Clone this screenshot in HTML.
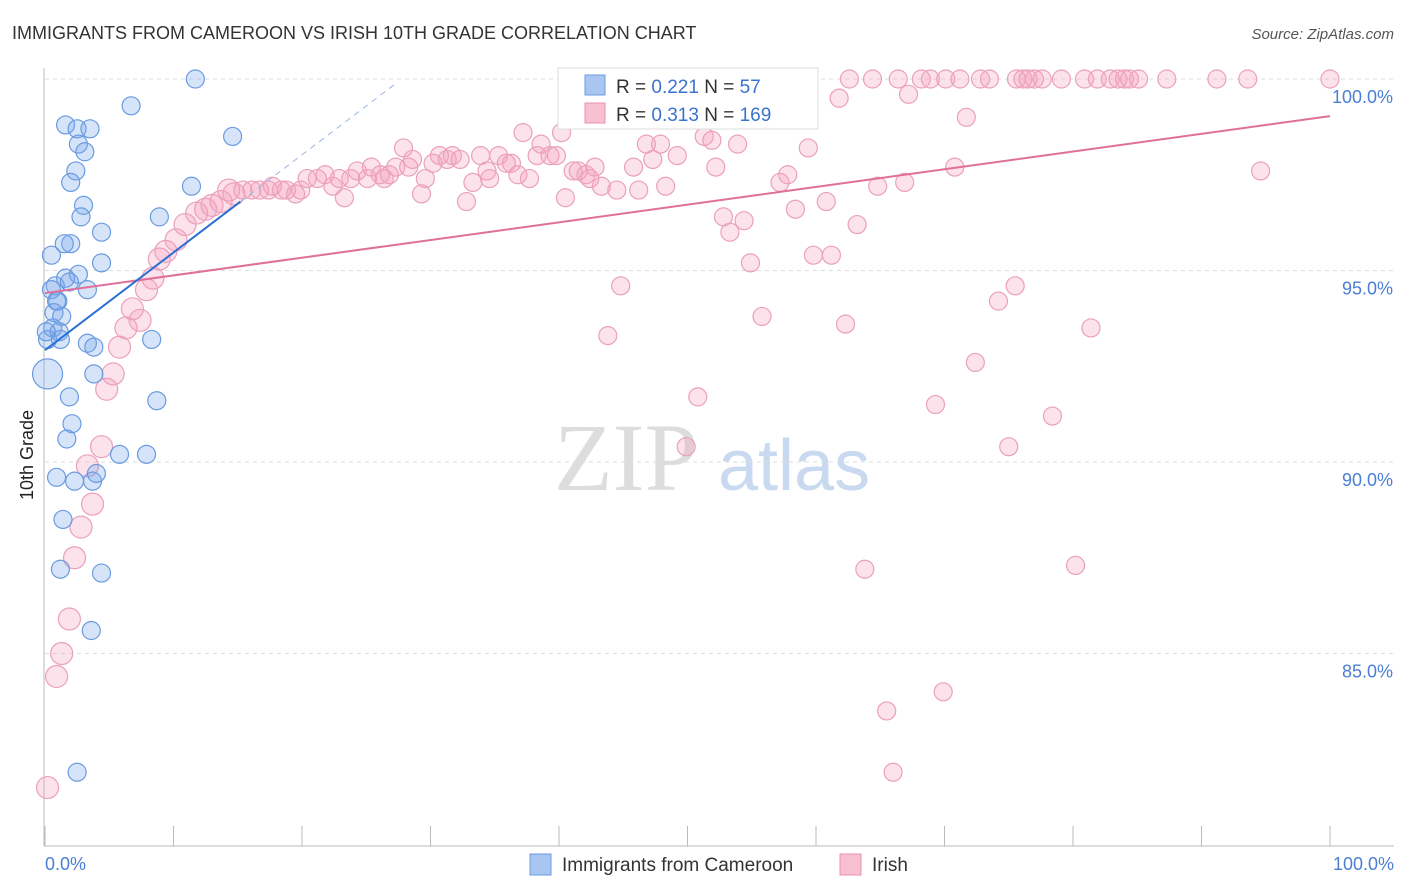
<!DOCTYPE html>
<html><head><meta charset="utf-8">
<style>
body{margin:0;background:#fff;font-family:"Liberation Sans",sans-serif;}
#wrap{position:relative;width:1406px;height:892px;overflow:hidden;}
</style></head>
<body>
<div id="wrap">
<svg id="chart" width="1406" height="892" xmlns="http://www.w3.org/2000/svg">
<text x="12" y="39" font-size="18" fill="#333">IMMIGRANTS FROM CAMEROON VS IRISH 10TH GRADE CORRELATION CHART</text>
<text x="1394" y="39" font-size="15" fill="#555" text-anchor="end" font-style="italic">Source: ZipAtlas.com</text>
<text x="554" y="490" font-size="96" fill="#ddd" font-family="Liberation Serif,serif">ZIP</text>
<text x="718" y="490" font-size="72" fill="#c9d9f0">atlas</text>
<text transform="translate(33,455) rotate(-90)" font-size="18" fill="#222" text-anchor="middle">10th Grade</text>
<g id="grid"></g><g id="axes"></g><g id="pts"></g><g id="trends"></g>
<g>
<rect x="558" y="68" width="260" height="61" fill="#fff" stroke="#ddd"/>
<rect x="585" y="75" width="20" height="20" fill="#a9c6f2" stroke="#6a9be0"/>
<rect x="585" y="103" width="20" height="20" fill="#f7bfd0" stroke="#e890b0"/>
<text x="616" y="93" font-size="19" fill="#333">R = <tspan fill="#3a73cf">0.221</tspan>   N =  <tspan fill="#3a73cf">57</tspan></text>
<text x="616" y="121" font-size="19" fill="#333">R = <tspan fill="#3a73cf">0.313</tspan>   N = <tspan fill="#3a73cf">169</tspan></text>
</g>
<g>
<rect x="530" y="854" width="21" height="21" fill="#a9c6f2" stroke="#6a9be0"/>
<text x="562" y="871" font-size="19" fill="#333">Immigrants from Cameroon</text>
<rect x="840" y="854" width="21" height="21" fill="#f7bfd0" stroke="#e890b0"/>
<text x="872" y="871" font-size="19" fill="#333">Irish</text>
</g>
</svg>
</div>
<script>
const yTicks=[100,95,90,85];
const yTickLabels=["100.0%","95.0%","90.0%","85.0%"];
const xTickLabels=["0.0%","100.0%"];
const blueX=[11.7,6.7,14.6,1.6,2.5,3.5,2.6,3.1,2.4,2.0,11.4,3.0,2.8,8.9,4.4,2.0,1.5,0.5,4.4,2.6,1.6,0.8,1.9,0.5,3.3,1.0,0.7,1.3,0.6,1.1,0.2,1.2,3.3,3.8,8.3,0.2,3.8,8.7,1.9,2.1,1.7,5.8,7.9,0.9,2.3,3.7,4.0,1.4,1.2,4.4,3.6,2.5,0.9,0.1];
const blueY=[100,99.3,98.5,98.8,98.7,98.7,98.3,98.1,97.6,97.3,97.2,96.7,96.4,96.4,96.0,95.7,95.7,95.4,95.2,94.9,94.8,94.6,94.7,94.5,94.5,94.2,93.9,93.8,93.5,93.4,93.2,93.2,93.1,93.0,93.2,92.3,92.3,91.6,91.7,91.0,90.6,90.2,90.2,89.6,89.5,89.5,89.7,88.5,87.2,87.1,85.6,81.9,94.2,93.4];
const pinkX=[0.2,0.9,1.3,1.9,2.3,2.8,3.7,3.3,4.4,4.8,5.3,5.8,6.3,7.4,6.8,7.9,8.4,8.9,9.4,10.2,10.9,11.8,12.5,13.0,13.7,14.3,14.7,15.4,16.1,16.7,17.4,17.7,18.4,18.8,19.5,19.9,20.4,21.2,21.8,22.4,22.9,23.3,23.8,24.3,25.1,25.4,26.1,26.4,26.8,27.3,27.9,28.3,28.6,29.3,29.6,30.2,30.7,31.3,31.7,32.3,32.8,33.3,33.9,34.4,34.6,35.3,35.9,36.3,36.8,37.2,37.7,38.3,38.6,39.3,39.8,40.2,40.5,41.1,41.5,42.1,42.4,42.8,43.3,43.8,44.1,44.5,44.8,45.8,46.2,46.8,47.3,47.9,48.3,49.2,49.9,50.8,51.3,51.9,52.2,52.8,53.3,53.9,54.4,54.9,55.8,57.2,57.8,58.4,58.8,59.4,59.8,60.8,61.2,61.8,62.3,62.6,63.2,63.8,64.4,64.8,65.5,66.0,66.4,66.9,67.2,68.2,68.9,69.3,69.9,70.1,70.8,71.2,71.7,72.4,72.8,73.5,74.2,75.0,75.5,75.6,76.1,76.5,77.0,77.6,78.4,79.1,80.2,80.9,81.4,81.9,82.9,83.5,84.0,84.4,85.1,87.3,91.2,93.6,94.6,100];
const pinkY=[81.5,84.4,85.0,85.9,87.5,88.3,88.9,89.9,90.4,91.9,92.3,93.0,93.5,93.7,94.0,94.5,94.8,95.3,95.5,95.8,96.2,96.5,96.6,96.7,96.8,97.1,97.0,97.1,97.1,97.1,97.1,97.2,97.1,97.1,97.0,97.1,97.4,97.4,97.5,97.2,97.4,96.9,97.4,97.6,97.4,97.7,97.5,97.4,97.5,97.7,98.2,97.7,97.9,97.0,97.4,97.8,98.0,97.9,98.0,97.9,96.8,97.3,98.0,97.6,97.4,98.0,97.8,97.8,97.5,98.6,97.4,98.0,98.3,98.0,98.0,98.6,96.9,97.6,97.6,97.5,97.4,97.7,97.2,93.3,99.1,97.1,94.6,97.7,97.1,98.3,97.9,98.3,97.2,98.0,90.4,91.7,98.5,98.4,97.7,96.4,96.0,98.3,96.3,95.2,93.8,97.3,97.5,96.6,100,98.2,95.4,96.8,95.4,99.5,93.6,100,96.2,87.2,100,97.2,83.5,81.9,100,97.3,99.6,100,100,91.5,84.0,100,97.7,100,99.0,92.6,100,100,94.2,90.4,94.6,100,100,100,100,100,91.2,100,87.3,100,93.5,100,100,100,100,100,100,100,100,100,97.6,100];
const blueTrend=[92.92,0.255];   // intercept, slope
const pinkTrend=[94.41,0.0462];
const NS="http://www.w3.org/2000/svg";
const X0=45,X1=1330,Y100=79,PXPER=38.3;
function sx(v){return X0+(X1-X0)*v/100;}
function sy(v){return Y100+(100-v)*PXPER;}
function mk(tag,attrs,parent){const e=document.createElementNS(NS,tag);for(const k in attrs)e.setAttribute(k,attrs[k]);parent.appendChild(e);return e;}
const grid=document.getElementById('grid'),axes=document.getElementById('axes'),pts=document.getElementById('pts'),tr=document.getElementById('trends');
yTicks.forEach((t,i)=>{
 const l=mk('line',{x1:45,x2:1394,y1:sy(t),y2:sy(t),stroke:'#ddd','stroke-dasharray':'4,4'},grid);
 
 
 const tx=mk('text',{x:1393,y:sy(t)+24,'font-size':18,fill:'#4a7fd4','text-anchor':'end'},axes);
 tx.textContent=yTickLabels[i];
 
 
});
const ya=mk('line',{x1:44,x2:44,y1:68,y2:846,stroke:'#bbb'},axes);


const xa=mk('line',{x1:44,x2:1394,y1:846,y2:846,stroke:'#bbb'},axes);


for(let i=0;i<=10;i++){
 const t=mk('line',{x1:sx(i*10),x2:sx(i*10),y1:826,y2:846,stroke:'#bbb'},axes);
 
 
}
[[0,'start',45],[1,'end',1394]].forEach(([i,a,x])=>{
 const tx=mk('text',{x:x,y:870,'font-size':18,fill:'#4a7fd4','text-anchor':a},axes);
 tx.textContent=xTickLabels[i];
 
 
});
pinkX.forEach((x,i)=>{
 const r=x<15?11:9;
 const c=mk('circle',{cx:sx(x),cy:sy(pinkY[i]),r:r,fill:'rgba(244,160,190,0.3)',stroke:'#eba0bb','stroke-width':1.2},pts);
 
 
});
blueX.forEach((x,i)=>{
 const r=(x<0.5&&blueY[i]<92.5)?15:9;
 const c=mk('circle',{cx:sx(x),cy:sy(blueY[i]),r:r,fill:'rgba(120,165,235,0.3)',stroke:'#6a9be0','stroke-width':1.2},pts);
 
 
});
const pl=mk('line',{x1:sx(0),y1:sy(pinkTrend[0]),x2:sx(100),y2:sy(pinkTrend[0]+pinkTrend[1]*100),stroke:'#e0709a','stroke-width':2},tr);


const bl=mk('line',{x1:sx(0),y1:sy(blueTrend[0]),x2:sx(15.2),y2:sy(blueTrend[0]+blueTrend[1]*15.2),stroke:'#2a6fd6','stroke-width':2},tr);


const bd=mk('line',{x1:sx(15.2),y1:sy(blueTrend[0]+blueTrend[1]*15.2),x2:sx(27.2),y2:sy(blueTrend[0]+blueTrend[1]*27.2),stroke:'#9bb8e0','stroke-width':1,'stroke-dasharray':'6,5'},tr);


</script>
</body></html>
